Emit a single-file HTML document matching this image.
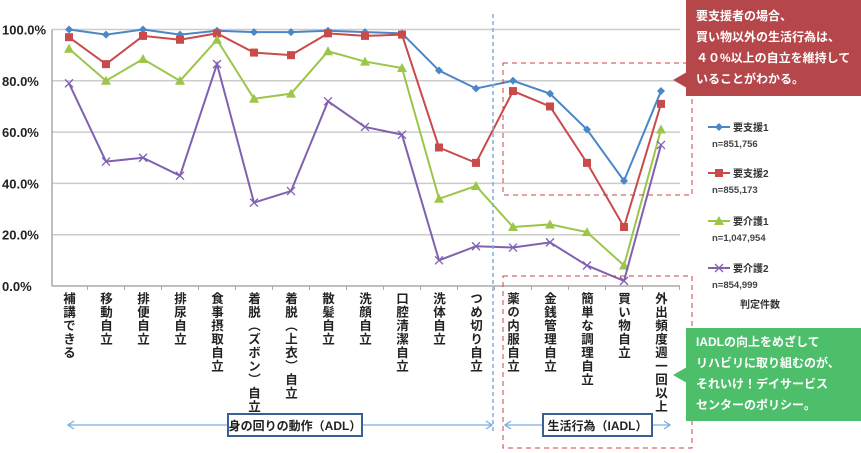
<!DOCTYPE html>
<html><head><meta charset="utf-8"><style>
body{margin:0;width:861px;height:453px;background:#fff;overflow:hidden;font-family:"Liberation Sans","Noto Sans CJK JP",sans-serif}
svg{position:absolute;left:0;top:0}
.xl{position:absolute;top:292px;writing-mode:vertical-rl;font-size:12.5px;font-weight:bold;color:#222;letter-spacing:1px;line-height:14px}
.call{position:absolute;color:#fff;font-size:12px;font-weight:bold;line-height:21px;padding:6px 0 0 10px;box-sizing:border-box}
</style></head><body>
<svg id="chart" width="861" height="453"></svg>
<div class="call" style="left:686px;top:0;width:175px;height:96px;background:#b5474a">要支援者の場合、<br>買い物以外の生活行為は、<br>４０%以上の自立を維持して<br>いることがわかる。</div>
<div class="call" style="left:686px;top:328px;width:175px;height:93px;background:#4dbf6b;padding-top:4px">IADLの向上をめざして<br>リハビリに取り組むのが、<br>それいけ！デイサービス<br>センターのポリシー。</div>
<script>
const categories=["補講できる","移動自立","排便自立","排尿自立","食事摂取自立","着脱（ズボン）自立","着脱（上衣）自立","散髪自立","洗顔自立","口腔清潔自立","洗体自立","つめ切り自立","薬の内服自立","金銭管理自立","簡単な調理自立","買い物自立","外出頻度週一回以上"];
const support1=[100,98,100,98,99.5,99,99,99.5,99,98.5,84,77,80,75,61,41,76];
const support2=[97,86.5,97.5,96,98.5,91,90,98.5,97.5,98,54,48,76,70,48,23,71];
const care1=[92.5,80,88.5,80,96,73,75,91.5,87.5,85,34,39,23,24,21,8,61];
const care2=[79,48.5,50,43,86.5,32.5,37,72,62,59,10,15.5,15,17,8,2,55];
const yTicks=["0.0%","20.0%","40.0%","60.0%","80.0%","100.0%"];
const seriesNames=["要支援1","要支援2","要介護1","要介護2"];
const seriesN=["n=851,756","n=855,173","n=1,047,954","n=854,999"];
const NS="http://www.w3.org/2000/svg";
const svg=document.getElementById('chart');
const X0=52,X1=680,Y0=286,Y100=29.5;
const xs=i=>69+i*37;
const ys=v=>Y0-(v/100)*(Y0-Y100);
function mk(t,a,p){const e=document.createElementNS(NS,t);for(const k in a)e.setAttribute(k,a[k]);(p||svg).appendChild(e);return e;}
yTicks.forEach((t,i)=>{const v=i*20;const y=ys(v);
 const g=mk('line',{x1:X0,x2:X1,y1:y,y2:y,stroke:v==0?'#aaa':'#ccc','stroke-width':1.5});
 
 
 const tx=mk('text',{x:2,y:y+5,'font-size':13,'font-weight':'bold',fill:'#222'});tx.textContent=t;
 
 });
mk('line',{x1:X0,x2:X0,y1:Y100,y2:Y0,stroke:'#aaa','stroke-width':1.5});
categories.forEach((c,i)=>{const t=mk('line',{x1:xs(i)+18.5,x2:xs(i)+18.5,y1:Y0,y2:Y0+4,stroke:'#aaa'});
 const d=document.createElement('div');d.className='xl';d.textContent=c;d.style.left=(xs(i)-8)+'px';
 
 
 document.body.appendChild(d);});
const colors=['#4a86c8','#c94a4a','#9bc649','#8060b0'];
const data=[support1,support2,care1,care2];
function marker(k,x,y,g){const c=colors[k];
 if(k==0)return mk('polygon',{points:`${x},${y-4} ${x+4},${y} ${x},${y+4} ${x-4},${y}`,fill:c},g);
 if(k==1)return mk('rect',{x:x-4,y:y-4,width:8,height:8,fill:c},g);
 if(k==2)return mk('polygon',{points:`${x},${y-5} ${x+5},${y+4} ${x-5},${y+4}`,fill:c},g);
 return mk('path',{d:`M${x-4},${y-4}L${x+4},${y+4}M${x+4},${y-4}L${x-4},${y+4}`,stroke:c,'stroke-width':1.3},g);}
data.forEach((s,k)=>{const g=mk('g',{});
 
 
 const p=mk('polyline',{points:s.map((v,i)=>xs(i)+','+ys(v)).join(' '),fill:'none',stroke:colors[k],'stroke-width':2},g);
 s.forEach((v,i)=>{const m=marker(k,xs(i),ys(v),g);
  
  });
 const ly=[127,173,221,268][k];const lg=mk('g',{});
 
 
 mk('line',{x1:708,x2:730,y1:ly,y2:ly,stroke:colors[k],'stroke-width':2},lg);marker(k,719,ly,lg);
 const t=mk('text',{x:733,y:ly+4,'font-size':10,'font-weight':'bold',fill:'#333'},lg);t.textContent=seriesNames[k];
 const n=mk('text',{x:712,y:ly+20,'font-size':9.5,'font-weight':'bold',fill:'#444'},lg);n.textContent=seriesN[k];});
const lt=mk('text',{x:740,y:308,'font-size':10,'font-weight':'bold',fill:'#333'});lt.textContent='判定件数';


mk('line',{x1:493,x2:493,y1:14,y2:432,stroke:'#7aaee0','stroke-width':1.5,'stroke-dasharray':'4,3'});
mk('rect',{x:503,y:63,width:189,height:132,fill:'none',stroke:'#d04040','stroke-dasharray':'5,4'});
mk('rect',{x:503,y:276,width:189,height:172,fill:'none',stroke:'#d04040','stroke-dasharray':'5,4'});
mk('polygon',{points:'673,80 687,72 687,88',fill:'#b5474a'});
mk('polygon',{points:'673,375 687,367 687,383',fill:'#4dbf6b'});
function arrow(x1,x2,y){mk('line',{x1,x2,y1:y,y2:y,stroke:'#7aaee0','stroke-width':1.3});
 mk('path',{d:`M${x1+6},${y-4}L${x1},${y}L${x1+6},${y+4}M${x2-6},${y-4}L${x2},${y}L${x2-6},${y+4}`,stroke:'#7aaee0',fill:'none','stroke-width':1.3});}
arrow(68,492,425);arrow(505,670,425);
function lbl(x,w,t,n){const r=mk('rect',{x,y:414,width:w,height:22,fill:'#fff',stroke:'#3a5f95','stroke-width':2});
 
 
 const tx=mk('text',{x:x+w/2,y:430,'text-anchor':'middle','font-size':12,'font-weight':'bold',fill:'#222'});tx.textContent=t;}
lbl(228,134,'身の回りの動作（ADL）','adl-label');lbl(543,109,'生活行為（IADL）','iadl-label');
</script>
</body></html>
